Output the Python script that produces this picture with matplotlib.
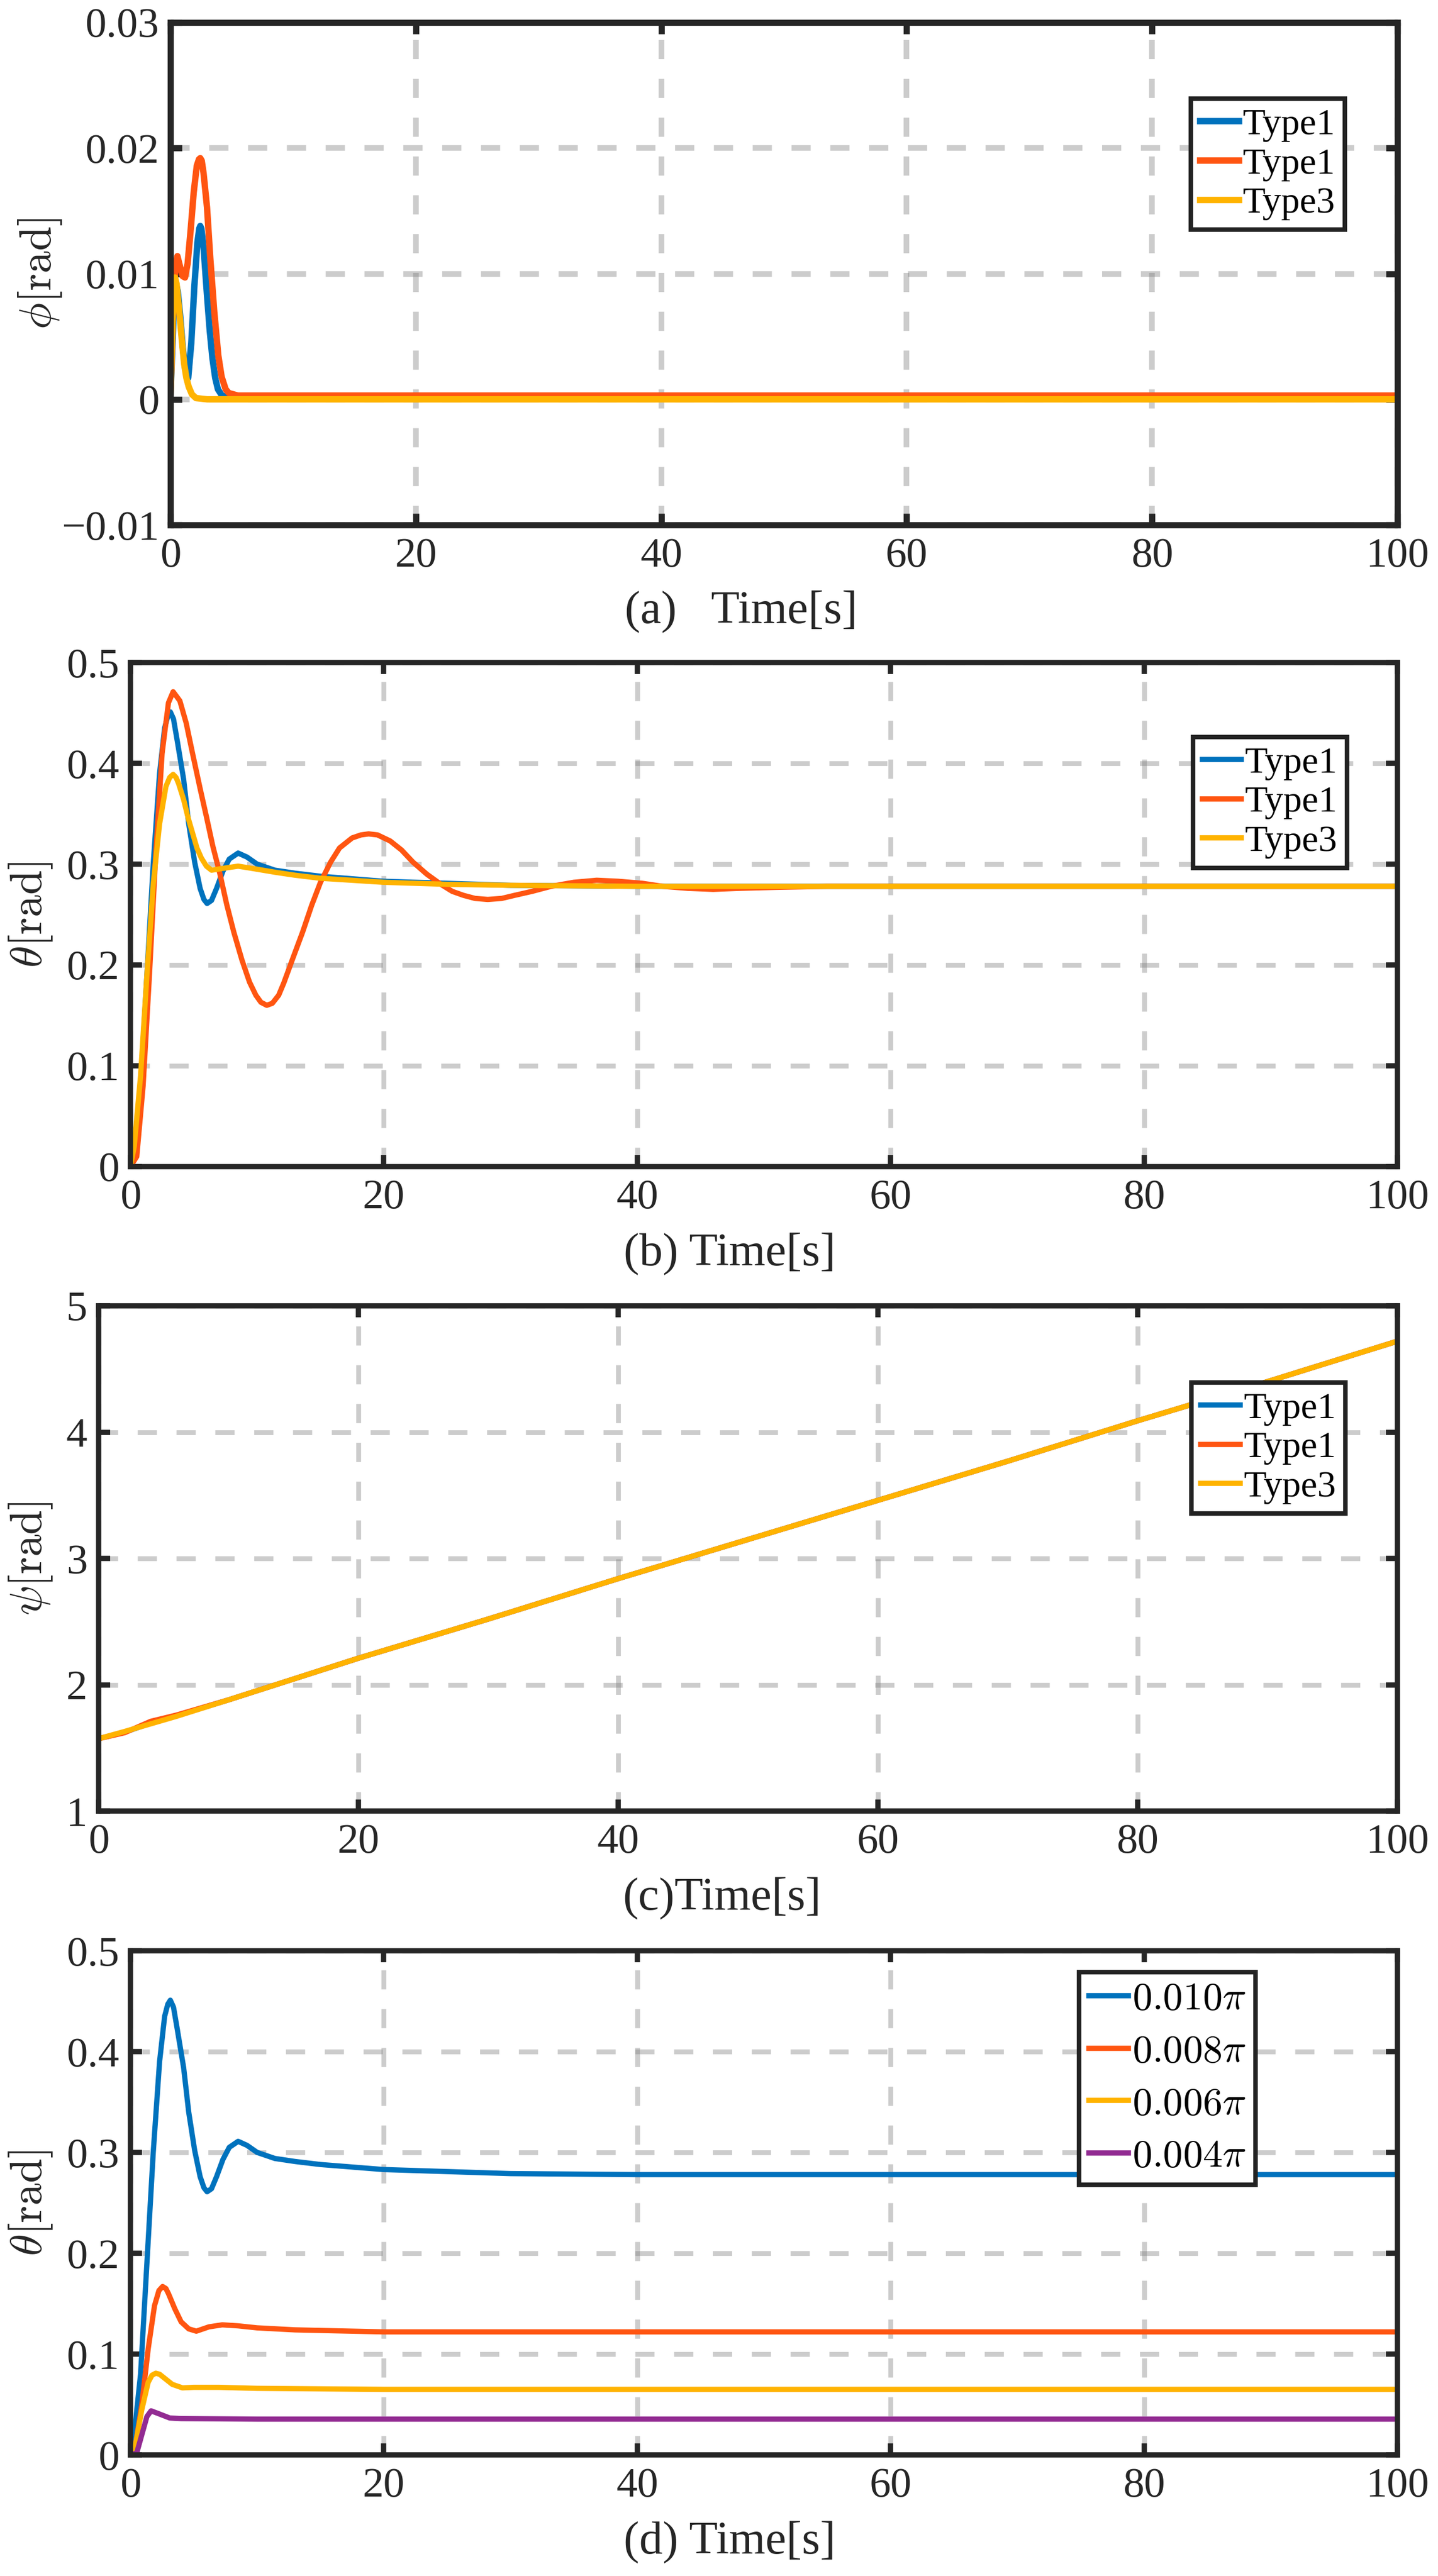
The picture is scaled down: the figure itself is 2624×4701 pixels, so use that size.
import matplotlib
matplotlib.use("Agg")
import matplotlib.pyplot as plt

# ---- data ----
# (a) roll angle phi
phi_t_type1 = [0, 0.15, 0.3, 0.45, 0.6, 0.8, 1.0, 1.2, 1.45, 1.7, 1.95, 2.2, 2.35, 2.43, 2.52, 2.7,
               2.98, 3.2, 3.42, 3.65, 3.87, 4.2, 4.6, 5.5, 10, 20, 40, 60, 80, 100]
phi_type1 = [0, 0.0040, 0.0078, 0.0092, 0.0086, 0.0066, 0.0042, 0.0024, 0.0017, 0.0045, 0.0090,
             0.0125, 0.0136, 0.0138, 0.0136, 0.0121, 0.0083, 0.0055, 0.0033, 0.0017, 0.0008,
             0.0003, 0.0002, 0.0002, 0.0002, 0.0002, 0.0002, 0.0002, 0.0002, 0.0002]
phi_t_type2 = [0, 0.2, 0.4, 0.57, 0.8, 1.0, 1.19, 1.4, 1.65, 1.9, 2.15, 2.32, 2.43, 2.55, 2.7,
               2.98, 3.25, 3.57, 3.9, 4.17, 4.5, 4.76, 5.5, 10, 100]
phi_type2 = [0, 0.0065, 0.0105, 0.0114, 0.0105, 0.0098, 0.0097, 0.0108, 0.0135, 0.0165, 0.0186,
             0.0191, 0.0192, 0.0190, 0.0180, 0.0153, 0.0112, 0.0070, 0.0035, 0.0018, 0.0008,
             0.0005, 0.0003, 0.0003, 0.0003]
phi_t_type3 = [0, 0.12, 0.25, 0.37, 0.5, 0.74, 0.95, 1.12, 1.3, 1.49, 1.75, 2.08, 3, 100]
phi_type3 = [0, 0.0045, 0.0085, 0.0097, 0.0092, 0.0068, 0.0045, 0.0028, 0.0017, 0.0010, 0.0004,
             0.0001, 0, 0]

# (b) pitch angle theta
theta_t_type1 = [0, 0.3, 0.8, 1.3, 1.8, 2.3, 2.7, 2.95, 3.15, 3.4, 3.7, 4.2, 4.6, 5.07, 5.5, 5.8,
                 6.05, 6.4, 6.8, 7.3, 7.8, 8.5, 9.2, 10, 11.4, 13, 15, 20, 25, 30, 40, 60, 80,
                 100]
theta_type1 = [0, 0.02, 0.08, 0.19, 0.30, 0.39, 0.435, 0.447, 0.451, 0.444, 0.422, 0.384, 0.34,
               0.302, 0.276, 0.265, 0.261, 0.264, 0.276, 0.293, 0.305, 0.311, 0.307, 0.300,
               0.294, 0.291, 0.288, 0.283, 0.281, 0.279, 0.278, 0.278, 0.278, 0.278]
theta_t_type2 = [0, 0.5, 1.0, 1.5, 2.0, 2.5, 3.0, 3.37, 3.9, 4.4, 4.9, 5.5, 6.0, 6.5, 7.07, 7.6,
                 8.15, 8.8, 9.4, 9.9, 10.3, 10.76, 11.2, 11.7, 12.1, 12.8, 13.6, 14.3, 15.0,
                 15.8, 16.5, 17.5, 18.2, 18.8, 19.5, 20.5, 21.4, 22.3, 23.4, 24.5, 25.4, 26.3,
                 27.2, 28.2, 29.3, 30.3, 31.7, 33.2, 35, 36.8, 38.5, 40.4, 42, 44, 46, 48, 51,
                 55, 60, 100]
theta_type2 = [0, 0.01, 0.08, 0.19, 0.31, 0.41, 0.46, 0.471, 0.462, 0.44, 0.41, 0.375, 0.347,
               0.318, 0.29, 0.26, 0.233, 0.205, 0.183, 0.170, 0.163, 0.160, 0.162, 0.170,
               0.182, 0.206, 0.233, 0.259, 0.282, 0.302, 0.316, 0.326, 0.329, 0.330, 0.329,
               0.323, 0.314, 0.302, 0.29, 0.28, 0.273, 0.269, 0.266, 0.265, 0.266, 0.269,
               0.273, 0.278, 0.282, 0.284, 0.283, 0.281, 0.278, 0.276, 0.275, 0.276, 0.277,
               0.278, 0.278, 0.278]
theta_t_type3 = [0, 0.3, 0.8, 1.3, 1.8, 2.3, 2.8, 3.1, 3.37, 3.6, 3.8, 4.2, 4.55, 4.9, 5.25, 5.6,
                 6.0, 6.4, 7.4, 8.5, 9.5, 11.4, 13, 15, 20, 25, 30, 40, 100]
theta_type3 = [0, 0.02, 0.09, 0.19, 0.28, 0.34, 0.377, 0.386, 0.389, 0.386, 0.38, 0.364, 0.346,
               0.331, 0.316, 0.306, 0.298, 0.294, 0.296, 0.298, 0.296, 0.292, 0.289, 0.286,
               0.282, 0.280, 0.279, 0.278, 0.278]

# (c) yaw angle psi
psi_t = [0, 2, 4, 6, 10, 20, 30, 40, 50, 60, 70, 80, 90, 100]
psi_type1 = [1.573, 1.625, 1.695, 1.755, 1.88, 2.21, 2.52, 2.84, 3.15, 3.46, 3.77, 4.09, 4.40, 4.72]
psi_type2 = [1.573, 1.62, 1.71, 1.76, 1.88, 2.21, 2.52, 2.84, 3.15, 3.46, 3.77, 4.09, 4.40, 4.72]
psi_type3 = [1.573, 1.63, 1.69, 1.75, 1.88, 2.21, 2.52, 2.84, 3.15, 3.46, 3.77, 4.09, 4.40, 4.72]

# (d) theta for different yaw rates
rate_t_008 = [0, 0.4, 0.9, 1.4, 1.9, 2.25, 2.54, 2.8, 3.0, 3.5, 4.0, 4.6, 5.2, 6.2, 7.25, 8.5,
              10, 13, 20, 40, 100]
rate_008 = [0, 0.01, 0.05, 0.105, 0.148, 0.163, 0.167, 0.165, 0.16, 0.145, 0.132, 0.125, 0.1227,
            0.127, 0.129, 0.128, 0.126, 0.124, 0.122, 0.122, 0.122]
rate_t_006 = [0, 0.4, 0.9, 1.4, 1.7, 2.0, 2.3, 2.6, 3.3, 4.1, 5, 7, 10, 20, 100]
rate_006 = [0, 0.01, 0.045, 0.072, 0.079, 0.081, 0.080, 0.077, 0.070, 0.0665, 0.067, 0.067,
            0.066, 0.065, 0.065]
rate_t_004 = [0, 0.5, 0.9, 1.3, 1.63, 2.2, 3.1, 4, 10, 100]
rate_004 = [0, 0.002, 0.02, 0.038, 0.0437, 0.041, 0.0366, 0.036, 0.0355, 0.0355]

type_labels = ['Type1', 'Type1', 'Type3']
rate_labels = [r'$0.010\pi$', r'$0.008\pi$', r'$0.006\pi$', r'$0.004\pi$']

x_ticks = [0, 20, 40, 60, 80, 100]
phi_ticks = [-0.01, 0, 0.01, 0.02, 0.03]
phi_ticklabels = ['\u22120.01', '0', '0.01', '0.02', '0.03']
theta_ticks = [0, 0.1, 0.2, 0.3, 0.4, 0.5]
theta_ticklabels = ['0', '0.1', '0.2', '0.3', '0.4', '0.5']
psi_ticks = [1, 2, 3, 4, 5]
psi_ticklabels = ['1', '2', '3', '4', '5']

colors = ['#0072BD', '#FF5511', '#FFB300', '#922B92']
ink = '#262626'

plt.rcParams['font.family'] = ['Liberation Serif', 'DejaVu Serif']
plt.rcParams['mathtext.fontset'] = 'cm'

W, H = 2624, 4701
fig = plt.figure(figsize=(W / 300, H / 300), dpi=300)


def make_axes(left, top, right, bottom):
    return fig.add_axes([left / W, 1 - bottom / H, (right - left) / W, (bottom - top) / H])


def style_axes(ax, ylim, yticks, yticklabels, lw):
    ax.set_xlim(0, 100)
    ax.set_ylim(*ylim)
    ax.set_xticks(x_ticks)
    ax.set_yticks(yticks)
    ax.set_yticklabels(yticklabels)
    ax.set_axisbelow(True)
    ax.grid(True, color='#808080', alpha=0.4, linewidth=lw * 0.92,
            linestyle=(0, (8.4 / (lw * 0.92), 8.6 / (lw * 0.92))))
    ax.tick_params(direction='in', length=5, width=lw, top=True, right=True,
                   labelsize=18.5, colors=ink)
    ax.tick_params(axis='x', pad=5.5)
    ax.tick_params(axis='y', pad=5)
    for sp in ax.spines.values():
        sp.set_linewidth(lw)
        sp.set_color(ink)


def set_labels(ax, xlabel, xpos, ylabel, ypos):
    ax.set_xlabel(xlabel, fontsize=20.5, color=ink)
    ax.xaxis.label.set_verticalalignment('center')
    ax.xaxis.set_label_coords(xpos, -0.173)
    ax.set_ylabel(ylabel, fontsize=19.5, color=ink)
    ax.yaxis.set_label_coords(ypos, 0.5)


def add_legend(ax, labels, anchor, size, hl, spacing):
    leg = ax.legend(labels, loc='upper right', bbox_to_anchor=anchor, borderaxespad=0,
                    fancybox=False, framealpha=1, edgecolor='#222222', fontsize=size,
                    handlelength=hl, handletextpad=0.1, labelspacing=spacing, borderpad=0.25)
    leg.get_frame().set_linewidth(2)


# (a)
ax = make_axes(311, 41, 2550, 958)
ax.plot(phi_t_type1, phi_type1, color=colors[0], lw=2.8)
ax.plot(phi_t_type2, phi_type2, color=colors[1], lw=2.8)
ax.plot(phi_t_type3, phi_type3, color=colors[2], lw=2.8)
style_axes(ax, (-0.01, 0.03), phi_ticks, phi_ticklabels, 2.7)
set_labels(ax, '(a)   Time[s]', 0.465, r'$\phi[\mathrm{rad}]$', -0.087)
add_legend(ax, type_labels, (0.957, 0.848), 16.3, 1.05, 0.15)

# (b)
ax = make_axes(238, 1209, 2550, 2129)
ax.plot(theta_t_type1, theta_type1, color=colors[0], lw=2.3)
ax.plot(theta_t_type2, theta_type2, color=colors[1], lw=2.3)
ax.plot(theta_t_type3, theta_type3, color=colors[2], lw=2.3)
style_axes(ax, (0, 0.5), theta_ticks, theta_ticklabels, 2.3)
set_labels(ax, '(b) Time[s]', 0.473, r'$\theta[\mathrm{rad}]$', -0.06)
add_legend(ax, type_labels, (0.96, 0.852), 16.3, 1.05, 0.15)

# (c)
ax = make_axes(180, 2383, 2550, 3305)
ax.plot(psi_t, psi_type1, color=colors[0], lw=2.3)
ax.plot(psi_t, psi_type2, color=colors[1], lw=2.3)
ax.plot(psi_t, psi_type3, color=colors[2], lw=2.3)
style_axes(ax, (1, 5), psi_ticks, psi_ticklabels, 2.3)
set_labels(ax, '(c)Time[s]', 0.48, r'$\psi[\mathrm{rad}]$', -0.034)
add_legend(ax, type_labels, (0.96, 0.848), 16.3, 1.05, 0.15)

# (d)
ax = make_axes(238, 3560, 2550, 4480)
ax.plot(theta_t_type1, theta_type1, color=colors[0], lw=2.3)
ax.plot(rate_t_008, rate_008, color=colors[1], lw=2.3)
ax.plot(rate_t_006, rate_006, color=colors[2], lw=2.3)
ax.plot(rate_t_004, rate_004, color=colors[3], lw=2.3)
style_axes(ax, (0, 0.5), theta_ticks, theta_ticklabels, 2.3)
set_labels(ax, '(d) Time[s]', 0.473, r'$\theta[\mathrm{rad}]$', -0.06)
add_legend(ax, rate_labels, (0.888, 0.958), 17.3, 1.0, 0.42)

fig.savefig('out.png', dpi=300)
